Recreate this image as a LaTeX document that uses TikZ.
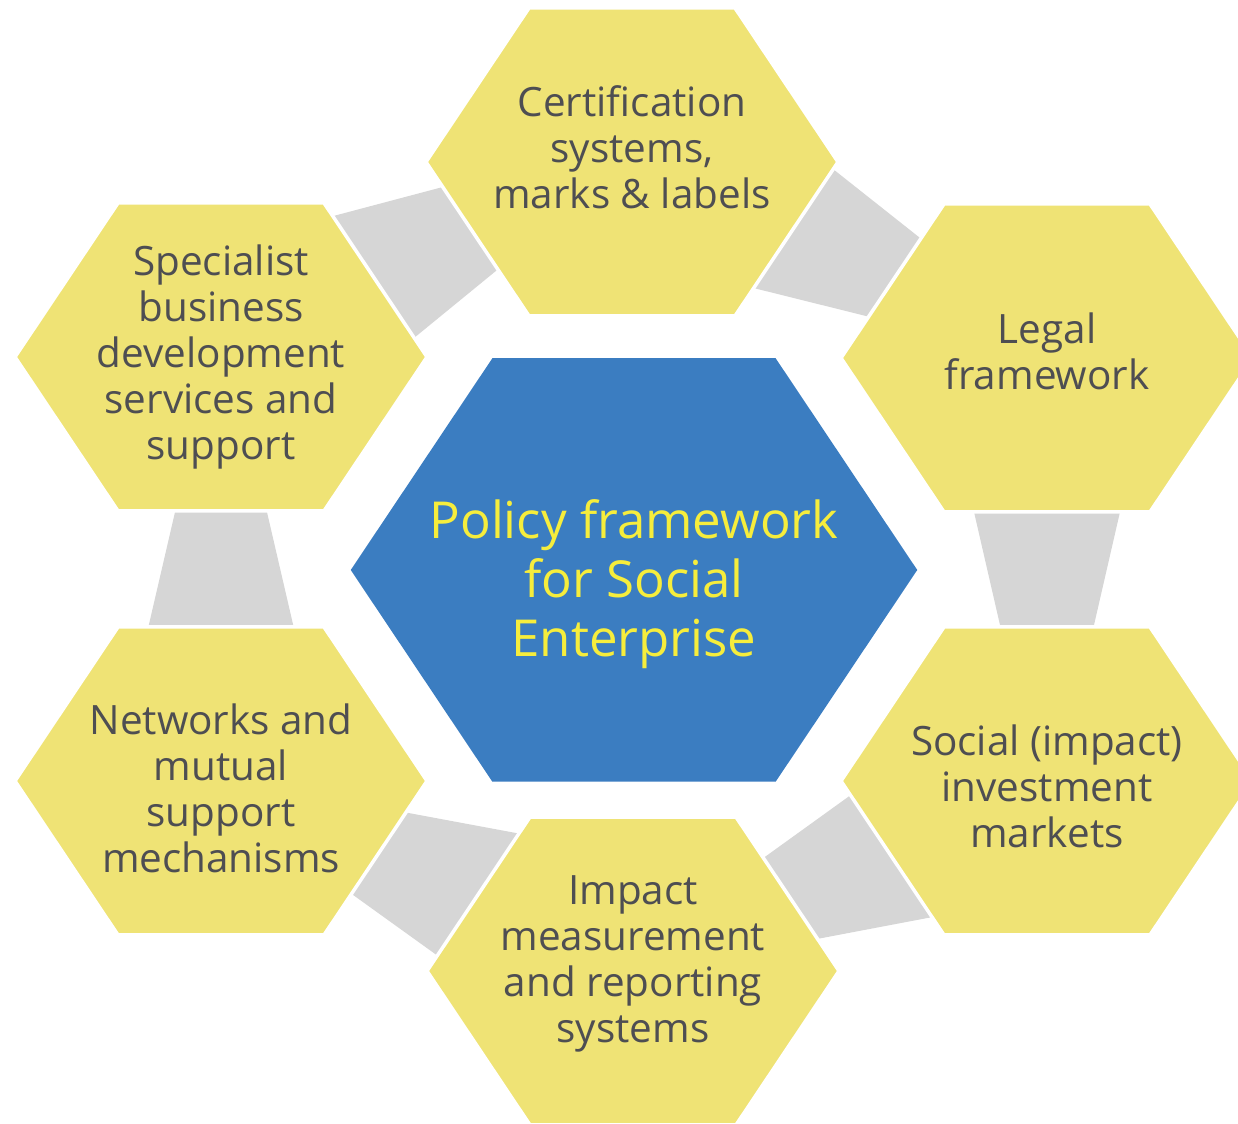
\documentclass[tikz,border=0pt]{standalone}
\usepackage{fontspec}
\setmainfont{Open Sans}
\usepackage{xcolor}
\usepackage{tikz}
\usetikzlibrary{calc}
\usetikzlibrary{backgrounds}

\definecolor{cellfill}{RGB}{239,227,117}
\definecolor{hubfill}{RGB}{59,125,193}
\definecolor{hubtext}{RGB}{246,237,60}
\definecolor{celltext}{RGB}{78,78,82}
\definecolor{linkgray}{RGB}{214,214,214}

\begin{document}
\begin{tikzpicture}[-,auto,semithick]
 				 \tikzstyle{cell}=[align=center, text=celltext, font=\fontsize{11.5}{13.1}\selectfont]
 				 \tikzstyle{hub}=[align=center, text=hubtext, font=\fontsize{14.5}{16.8}\selectfont]
 				 \tikzstyle{link}=[fill=linkgray, draw=none, to path={($(\tikztostart.center)!1.1cm!90:(\tikztotarget.center)$) -- ($(\tikztostart.center)!1.1cm!-90:(\tikztotarget.center)$) -- ($(\tikztotarget.center)!0.1cm!90:(\tikztostart.center)$) -- ($(\tikztotarget.center)!0.1cm!-90:(\tikztostart.center)$) -- cycle}]
 				 \useasboundingbox (0,0) rectangle (12.38,-11.24);
 					 \node[hub]  (P) at (6.34,-5.84) {Policy framework\\for Social\\Enterprise};
 					 \node[cell] (C) at (6.32,-1.47) {Certification\\systems,\\marks \& labels};
 					 \node[cell] (L) at (10.47,-3.51) {Legal\\framework};
 					 \node[cell] (S) at (10.47,-7.86) {Social (impact)\\investment\\markets};
 					 \node[cell] (I) at (6.33,-9.64) {Impact\\measurement\\and reporting\\systems};
 					 \node[cell] (N) at (2.21,-7.88) {Networks and\\mutual\\support\\mechanisms};
 					 \node[cell] (B) at (2.21,-3.57) {Specialist\\business\\development\\services and\\support};
 				 \begin{pgfonlayer}{background}
 					 \path
 							 (B) edge [link] (C)
 							 (C) edge [link] (L)
 							 (L) edge [link] (S)
 							 (S) edge [link] (I)
 							 (I) edge [link] (N)
 							 (N) edge [link] (B);
 					 \foreach \n/\dy in {C/-0.15,L/-0.07,S/0.05,I/-0.07,N/0.07,B/0}
 						 \fill[cellfill, draw=white, line width=1pt, shift={($(\n)+(0,\dy)$)}] (-2.06,0) -- (-1.03,1.54) -- (1.03,1.54) -- (2.06,0) -- (1.03,-1.54) -- (-1.03,-1.54) -- cycle;
 					 \fill[hubfill, shift={($(P)+(0,0.14)$)}, scale=1.375] (-2.06,0) -- (-1.03,1.54) -- (1.03,1.54) -- (2.06,0) -- (1.03,-1.54) -- (-1.03,-1.54) -- cycle;
 				 \end{pgfonlayer}
\end{tikzpicture}
\end{document}
